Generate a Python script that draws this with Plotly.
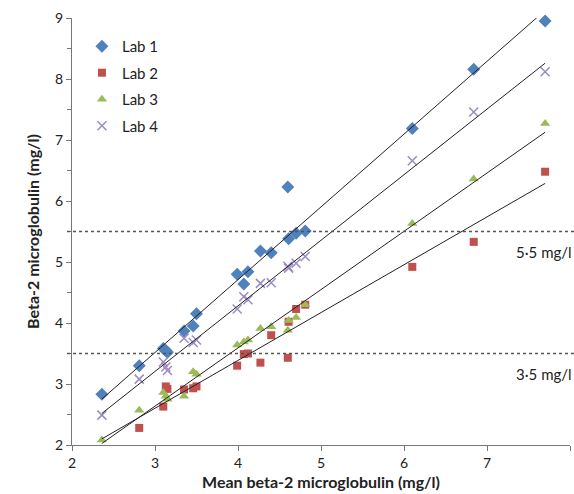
import numpy as np
import plotly.graph_objects as go

# Mean beta-2 microglobulin per sample (x) and each lab's result (y)
mean_b2m = [2.36, 2.81, 3.10, 3.13, 3.15, 3.35, 3.46, 3.50, 3.99, 4.07,
            4.12, 4.27, 4.40, 4.60, 4.61, 4.70, 4.81, 6.10, 6.84, 7.70]
lab1 = [2.83, 3.30, 3.58, 3.55, 3.52, 3.87, 3.95, 4.15, 4.80, 4.64,
        4.84, 5.18, 5.15, 6.23, 5.38, 5.47, 5.51, 7.19, 8.16, 8.95]
lab2 = [1.97, 2.28, 2.63, 2.96, 2.92, 2.91, 2.93, 2.96, 3.30, 3.49,
        3.50, 3.35, 3.80, 3.43, 4.02, 4.23, 4.30, 4.92, 5.33, 6.48]
lab3 = [2.08, 2.57, 2.86, 2.80, 2.75, 2.80, 3.20, 3.16, 3.64, 3.69,
        3.72, 3.91, 3.94, 3.88, 4.04, 4.09, 4.30, 5.63, 6.36, 7.27]
lab4 = [2.49, 3.08, 3.36, 3.28, 3.22, 3.75, 3.68, 3.72, 4.23, 4.43,
        4.38, 4.65, 4.66, 4.93, 4.90, 4.98, 5.09, 6.66, 7.46, 8.12]

series_names = ["Lab 1", "Lab 2", "Lab 3", "Lab 4"]
thresholds = [5.5, 3.5]
threshold_labels = ["5·5 mg/l", "3·5 mg/l"]

styles = [
    dict(symbol="diamond", color="#4F81BD", size=10),
    dict(symbol="square", color="#C0504D", size=8),
    dict(symbol="triangle-up", color="#9BBB59", size=9),
    dict(symbol="x-thin", color="#9B8BC4", size=9),
]

FONT = "Lato, Carlito, 'Open Sans', sans-serif"
fig = go.Figure()

x = np.array(mean_b2m)
for i, (name, ys) in enumerate(zip(series_names, [lab1, lab2, lab3, lab4])):
    st = styles[i]
    marker = dict(symbol=st["symbol"], size=st["size"], color=st["color"])
    if st["symbol"] == "x-thin":
        marker["line"] = dict(color=st["color"], width=1.5)
    fig.add_trace(go.Scatter(
        x=mean_b2m, y=ys, mode="markers", name=name, marker=marker,
        legendgroup=name, cliponaxis=False,
    ))

# Linear trendlines (least squares) for each lab
for i, ys in enumerate([lab1, lab2, lab3, lab4]):
    m, c = np.polyfit(x, np.array(ys), 1)
    xs = np.array([x.min(), x.max()])
    fig.add_trace(go.Scatter(
        x=xs, y=m * xs + c, mode="lines", showlegend=False,
        line=dict(color="#222222", width=1), hoverinfo="skip",
    ))

shapes = []
annotations = []
for t, lbl in zip(thresholds, threshold_labels):
    shapes.append(dict(type="line", xref="paper", yref="y", x0=-0.01, x1=1.02,
                       y0=t, y1=t, line=dict(color="#555555", width=1.5, dash="dot")))
    annotations.append(dict(x=7.33, y=t - 0.33, xref="x", yref="y", text=lbl,
                            showarrow=False, xanchor="left", yanchor="middle",
                            font=dict(family=FONT, size=15, color="#222222")))

fig.update_layout(
    width=574, height=494,
    margin=dict(l=72, r=4, t=18, b=49),
    paper_bgcolor="white", plot_bgcolor="white",
    font=dict(family=FONT, size=14, color="#222222"),
    shapes=shapes, annotations=annotations,
    legend=dict(x=0.02, y=0.972, xanchor="left", yanchor="top",
                bgcolor="rgba(0,0,0,0)", font=dict(size=15, family=FONT),
                traceorder="grouped", tracegroupgap=4, itemwidth=30),
    xaxis=dict(range=[2, 8], dtick=1, tick0=2, showgrid=False, zeroline=False,
               showline=True, linecolor="#777777", linewidth=1,
               ticks="outside", ticklen=5, tickcolor="#777777",
               tickfont=dict(size=14, family=FONT),
               title=dict(text="<b>Mean beta-2 microglobulin (mg/l)</b>",
                          font=dict(size=16, family=FONT), standoff=7)),
    yaxis=dict(range=[2, 9], dtick=1, tick0=2, showgrid=False, zeroline=False,
               showline=True, linecolor="#777777", linewidth=1,
               ticks="outside", ticklen=5, tickcolor="#777777",
               tickfont=dict(size=14, family=FONT),
               minor=dict(dtick=0.5, ticks="outside", ticklen=4, tickcolor="#777777"),
               title=dict(text="<b>Beta-2 microglobulin (mg/l)</b>",
                          font=dict(size=16, family=FONT), standoff=11)),
)

fig.write_html("out.html")
